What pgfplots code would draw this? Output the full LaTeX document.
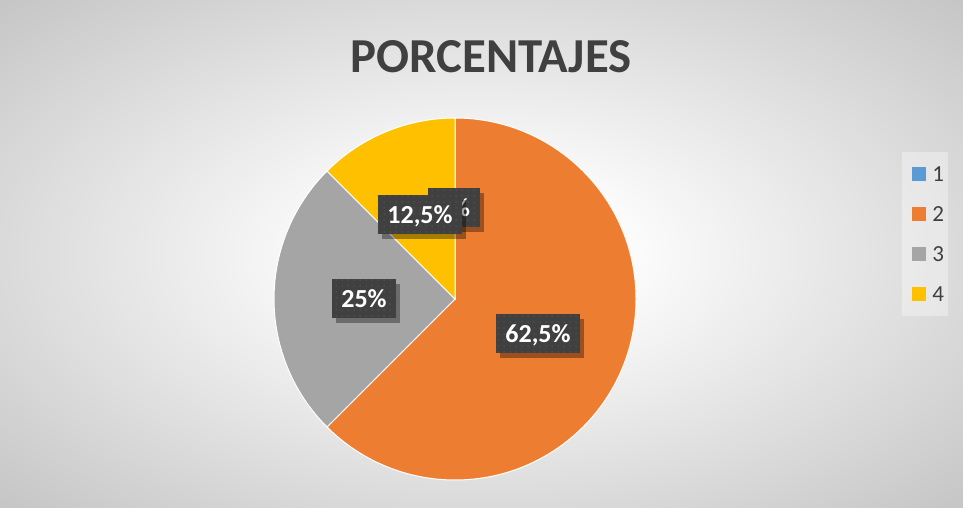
\documentclass[border=0pt]{standalone}
\usepackage{pgfplots}
\pgfplotsset{compat=1.18}
\usepackage{pgfplotstable}
\usepackage{fontspec}
\setmainfont{Carlito}
\usetikzlibrary{patterns,shadows}
\definecolor{c1}{HTML}{5B9BD5}
\definecolor{c2}{HTML}{ED7D31}
\definecolor{c3}{HTML}{A5A5A5}
\definecolor{c4}{HTML}{FFC000}
\definecolor{txt}{HTML}{404040}
\definecolor{lbl}{HTML}{404040}
\definecolor{lbldot}{HTML}{4E4E4E}
\definecolor{bgout}{HTML}{C4C4C4}
\pgfdeclareradialshading{chartbg}{\pgfpoint{0bp}{0bp}}{color(0bp)=(white); color(6bp)=(white); color(36bp)=(bgout); color(50bp)=(bgout)}
\pgfplotstableread{
cat val
1 0
2 62.5
3 25
4 12.5
}\piedata
\tikzset{lblbox/.style={fill=lbl, text=white, font=\bfseries\fontsize{13}{15}\selectfont,
  inner xsep=4.75pt, text height=8.3pt, text depth=0pt, minimum height=19.5pt,
  drop shadow={shadow xshift=2pt, shadow yshift=-2.5pt, opacity=0.35, fill=black},
  postaction={pattern=dots, pattern color=lbldot}}}
\begin{document}
\begin{tikzpicture}
\pgfplotstablegetelem{0}{val}\of\piedata \let\vA\pgfplotsretval
\pgfplotstablegetelem{1}{val}\of\piedata \let\vB\pgfplotsretval
\pgfplotstablegetelem{2}{val}\of\piedata \let\vC\pgfplotsretval
\pgfplotstablegetelem{3}{val}\of\piedata \let\vD\pgfplotsretval
\pgfmathsetmacro{\aA}{90}
\pgfmathsetmacro{\aB}{\aA-3.6*\vA}
\pgfmathsetmacro{\aC}{\aB-3.6*\vB}
\pgfmathsetmacro{\aD}{\aC-3.6*\vC}
\pgfmathsetmacro{\aE}{\aD-3.6*\vD}
\begin{axis}[scale only axis, width=481.5pt, height=254pt,
  xmin=0, xmax=963, ymin=0, ymax=508, hide axis, clip=false]
% background
\fill[shading=chartbg] (axis cs:0,0) rectangle (axis cs:963,508);
% pie slices
\fill[c1, draw=white, line width=0.5pt] (axis cs:455,209) -- ++(\aA:90.5pt) arc[start angle=\aA, end angle=\aB, radius=90.5pt] -- cycle;
\fill[c2, draw=white, line width=0.5pt] (axis cs:455,209) -- ++(\aB:90.5pt) arc[start angle=\aB, end angle=\aC, radius=90.5pt] -- cycle;
\fill[c3, draw=white, line width=0.5pt] (axis cs:455,209) -- ++(\aC:90.5pt) arc[start angle=\aC, end angle=\aD, radius=90.5pt] -- cycle;
\fill[c4, draw=white, line width=0.5pt] (axis cs:455,209) -- ++(\aD:90.5pt) arc[start angle=\aD, end angle=\aE, radius=90.5pt] -- cycle;
% data labels
\node[lblbox] at (axis cs:454,300) {0\%};
\node[lblbox] at (axis cs:420,293) {12,5\%};
\node[lblbox] at (axis cs:364,209) {25\%};
\node[lblbox] at (axis cs:538,174) {62,5\%};
% title
\node[text=txt, font=\bfseries\fontsize{24.4}{29}\selectfont, inner sep=0pt] at (axis cs:491,451) {PORCENTAJES};
% legend
\fill[white, opacity=0.35] (axis cs:902,192) rectangle (axis cs:948,356);
\fill[c1] (axis cs:912,327) rectangle (axis cs:926,341);
\fill[c2] (axis cs:912,287) rectangle (axis cs:926,301);
\fill[c3] (axis cs:912,247) rectangle (axis cs:926,261);
\fill[c4] (axis cs:912,207) rectangle (axis cs:926,221);
\node[anchor=west, inner sep=0pt, text=txt, font=\fontsize{11.5}{13}\selectfont] at (axis cs:932,334) {1};
\node[anchor=west, inner sep=0pt, text=txt, font=\fontsize{11.5}{13}\selectfont] at (axis cs:932,294) {2};
\node[anchor=west, inner sep=0pt, text=txt, font=\fontsize{11.5}{13}\selectfont] at (axis cs:932,254) {3};
\node[anchor=west, inner sep=0pt, text=txt, font=\fontsize{11.5}{13}\selectfont] at (axis cs:932,214) {4};
\end{axis}
\end{tikzpicture}
\end{document}
